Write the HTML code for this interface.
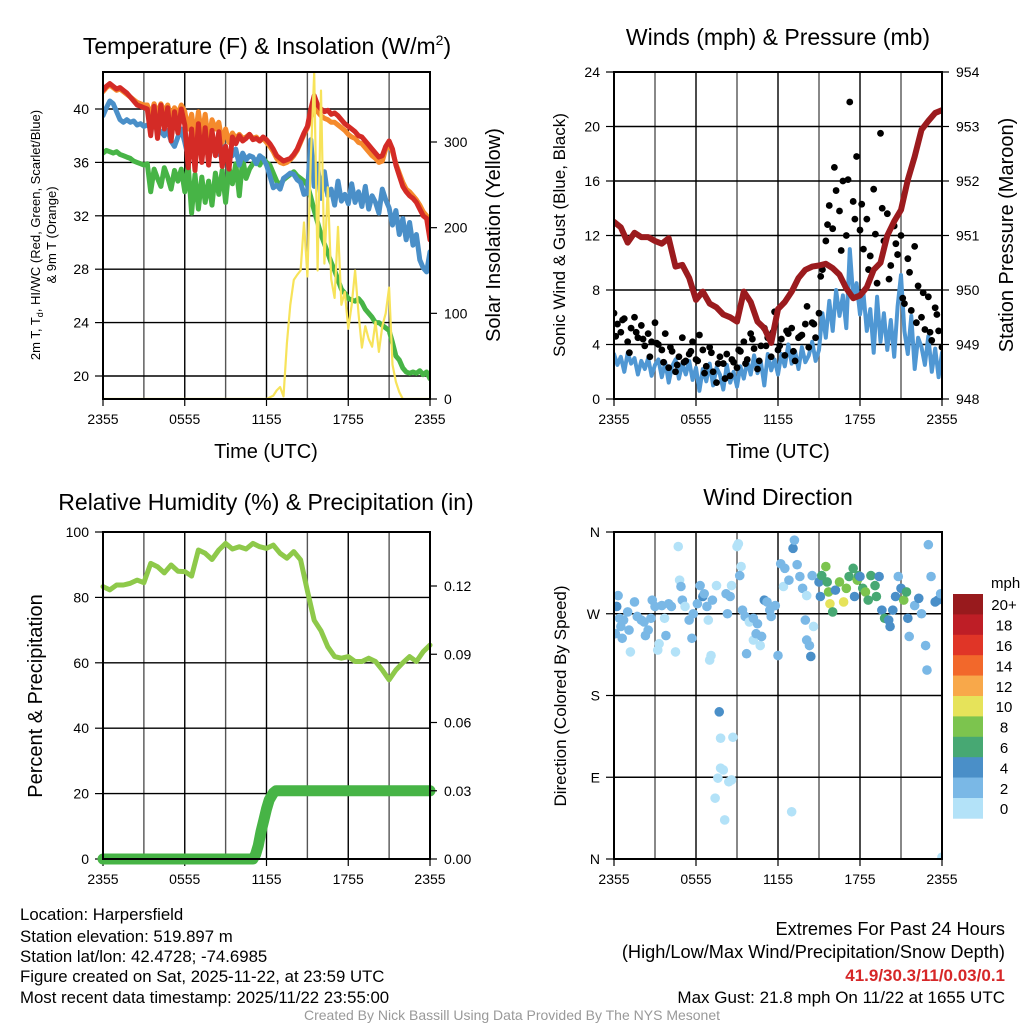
<!DOCTYPE html>
<html><head><meta charset="utf-8">
<style>
html,body{margin:0;padding:0;background:#fff;}
svg{display:block;font-family:"Liberation Sans",Arial,sans-serif;}
</style></head>
<body>
<svg id="chart" width="1024" height="1024" viewBox="0 0 1024 1024" xmlns="http://www.w3.org/2000/svg">
<rect width="1024" height="1024" fill="#fff"/>
<g id="layer"></g>
<text x="267" y="54" font-size="23" text-anchor="middle">Temperature (F) &amp; Insolation (W/m<tspan font-size="14" dy="-9">2</tspan><tspan dy="9">)</tspan></text>
<text x="778" y="45" font-size="23" text-anchor="middle">Winds (mph) &amp; Pressure (mb)</text>
<text x="266" y="510" font-size="23" text-anchor="middle">Relative Humidity (%) &amp; Precipitation (in)</text>
<text x="778" y="505" font-size="23" text-anchor="middle">Wind Direction</text>

<text transform="translate(40,235) rotate(-90)" font-size="13" text-anchor="middle">2m T, T<tspan font-size="9" dy="3">d</tspan><tspan dy="-3">, HI/WC (Red, Green, Scarlet/Blue)</tspan></text>
<text transform="translate(56,235) rotate(-90)" font-size="13" text-anchor="middle">&amp; 9m T (Orange)</text>
<text transform="translate(500,235) rotate(-90)" font-size="20" text-anchor="middle">Solar Insolation (Yellow)</text>
<text x="266" y="458" font-size="20" text-anchor="middle">Time (UTC)</text>
<text transform="translate(565,235) rotate(-90)" font-size="17" text-anchor="middle">Sonic Wind &amp; Gust (Blue, Black)</text>
<text transform="translate(1013,235) rotate(-90)" font-size="20" text-anchor="middle">Station Pressure (Maroon)</text>
<text x="778" y="458" font-size="20" text-anchor="middle">Time (UTC)</text>
<text transform="translate(42,696) rotate(-90)" font-size="20" text-anchor="middle">Percent &amp; Precipitation</text>
<text transform="translate(566,696) rotate(-90)" font-size="17" text-anchor="middle">Direction (Colored By Speed)</text>

<g font-size="16.8">
<text x="20" y="920">Location: Harpersfield</text>
<text x="20" y="942">Station elevation: 519.897 m</text>
<text x="20" y="962">Station lat/lon: 42.4728; -74.6985</text>
<text x="20" y="982">Figure created on Sat, 2025-11-22, at 23:59 UTC</text>
<text x="20" y="1003">Most recent data timestamp: 2025/11/22 23:55:00</text>
</g>
<g font-size="18.2" text-anchor="end">
<text x="1005" y="935">Extremes For Past 24 Hours</text>
<text x="1005" y="958">(High/Low/Max Wind/Precipitation/Snow Depth)</text>
<text x="1005" y="981" fill="#d62728" font-weight="bold" font-size="17">41.9/30.3/11/0.03/0.1</text>
<text x="1005" y="1003" font-size="17">Max Gust: 21.8 mph On 11/22 at 1655 UTC</text>
</g>
<text x="512" y="1020" font-size="14" fill="#999" text-anchor="middle">Created By Nick Bassill Using Data Provided By The NYS Mesonet</text>
</svg>
<script>
// ---------- DATA ----------
const timeLabels = ["2355","0555","1155","1755","2355"];
const tempTicks = [20,24,28,32,36,40];
const solarTicks = [0,100,200,300];
const windTicks = [0,4,8,12,16,20,24];
const presTicks = [948,949,950,951,952,953,954];
const rhTicks = [0,20,40,60,80,100];
const precipTicks = ["0.00","0.03","0.06","0.09","0.12"];
const dirTicks = ["N","E","S","W","N"];
const speedBins = ["0","2","4","6","8","10","12","14","16","18","20+"];
const speedColors = ["#b3e2f8","#7ab8e6","#4a8fc8","#47a873","#7cc44e","#e6e35a","#f8a84a","#f2682b","#e03527","#be1e26","#981a1d"];

const tempRed = [41.4,41.7,41.9,41.7,41.5,41.6,41.4,41.2,40.9,40.6,40.3,40.2,40.1,
40.0,38.0,40.2,37.8,40.3,38.5,40.1,37.6,39.8,38.2,40.0,38.8,
35.6,38.5,35.4,38.9,36.0,38.6,35.8,38.4,36.5,38.3,35.7,37.2,
35.5,37.9,37.4,38.0,37.6,37.8,38.1,37.7,37.8,37.6,37.9,37.7,
37.4,37.0,36.5,36.3,36.1,36.2,36.3,36.6,37.0,37.6,38.2,38.7,
40.0,41.0,40.3,40.0,39.8,39.9,39.6,39.7,39.5,39.2,38.9,38.7,
38.5,38.3,38.0,37.9,37.6,37.3,37.0,36.7,36.4,36.5,37.2,37.6,
37.0,35.8,35.0,34.2,33.8,33.5,33.3,33.0,32.5,32.0,31.8,30.2];
const tempOrange = [41.3,41.6,41.8,41.6,41.4,41.5,41.3,41.1,40.9,40.7,40.5,40.4,40.3,
40.3,39.5,40.4,39.6,40.4,39.8,40.3,39.4,40.1,39.6,40.3,39.8,
38.5,39.6,37.8,39.8,38.0,39.6,37.5,39.2,38.5,39.0,37.5,38.5,
37.5,38.2,37.8,38.1,37.8,37.9,38.1,37.8,37.9,37.6,37.8,37.5,
37.2,36.8,36.3,36.0,35.9,36.0,36.2,36.5,36.9,37.5,38.1,38.6,
39.3,40.2,39.8,39.5,39.3,39.2,39.0,39.0,38.8,38.6,38.4,38.1,
37.9,37.8,37.5,37.4,37.1,36.8,36.5,36.3,36.0,36.1,37.0,37.3,
36.8,35.9,35.2,34.5,34.0,33.8,33.5,33.2,32.8,32.3,32.0,30.8];
const tempGreen = [36.7,36.9,36.8,36.7,36.8,36.6,36.5,36.4,36.3,36.1,36.0,35.9,35.8,
35.9,33.8,35.5,34.8,34.2,35.6,34.9,34.0,35.4,34.6,35.5,33.8,
35.8,32.2,35.1,32.5,34.9,33.0,34.6,32.8,35.2,33.6,35.4,33.0,
35.6,34.4,35.9,33.5,36.3,34.8,35.5,35.9,36.2,35.8,36.3,36.0,
35.8,35.2,34.6,34.3,34.7,34.9,35.1,35.3,35.0,34.8,34.6,34.3,
33.4,32.4,31.5,30.6,29.9,29.2,28.5,27.9,27.2,26.5,26.2,25.8,
25.7,25.6,25.8,25.5,25.0,24.7,24.4,24.0,24.0,23.8,23.6,23.4,
22.5,21.5,21.2,20.6,20.3,20.2,20.3,20.2,20.4,20.1,20.3,19.8];
const tempBlue = [39.5,40.1,40.6,40.4,39.8,39.2,39.0,39.2,39.0,39.1,38.8,38.9,38.7,
38.8,38.6,38.8,38.5,38.3,38.0,38.4,37.6,37.2,37.9,38.5,37.5,
36.4,37.0,37.4,36.9,37.2,37.3,36.6,37.0,37.2,36.6,37.4,36.8,
36.8,36.5,37.0,35.8,36.7,36.2,36.5,36.4,35.9,36.5,36.3,35.8,
35.0,34.1,34.3,34.0,34.8,35.0,35.2,35.1,34.7,34.5,33.6,33.7,
37.7,34.2,35.8,33.3,35.3,33.5,34.0,32.8,34.6,33.1,33.6,32.9,
34.4,33.0,33.8,32.7,34.2,32.5,33.5,33.0,32.2,34.0,33.2,32.6,
31.3,32.4,30.6,31.8,30.2,31.5,29.8,30.6,28.7,28.1,27.8,29.3];
const solar = [0,0,0,0,0,0,0,0,0,0,0,0,0,0,0,0,0,0,0,0,0,0,0,0,0,0,0,0,0,0,0,0,0,0,0,0,0,0,0,0,0,0,0,0,0,0,0,0,0,
2,4,10,14,3,65,110,139,145,150,206,143,280,381,150,360,158,247,140,118,201,110,125,82,110,150,100,60,85,70,61,90,55,85,100,130,40,20,8,0,0,0,0,0,0,0,0,0];

const windSpeed = [3.3,2.5,3.1,2.0,3.4,2.6,3.0,1.8,2.8,2.2,3.0,1.7,2.5,
2.9,1.6,2.7,1.2,2.4,2.9,1.5,2.6,1.8,2.8,1.4,2.3,
0.6,2.2,1.3,2.6,1.0,2.3,1.8,0.7,2.5,1.2,2.0,0.9,
2.4,1.5,2.8,1.8,3.2,1.9,2.7,1.0,3.3,2.1,2.9,1.8,
3.3,2.4,4.0,2.6,3.5,2.2,3.8,2.7,3.2,4.2,2.8,3.6,
6.3,4.5,7.2,5.0,8.0,6.1,7.6,5.2,11.0,7.5,8.5,6.2,
7.8,5.0,6.6,3.4,7.5,4.2,6.3,3.6,5.8,3.1,6.8,9.1,
5.0,3.3,6.1,2.2,4.5,3.8,2.5,4.6,2.0,3.7,1.6,3.4];
const gusts = [6.3,5.5,4.9,5.9,4.2,5.2,6.0,4.5,5.4,3.9,4.8,4.2,5.6,
4.0,3.6,4.8,2.3,3.5,2.0,3.1,4.5,2.8,3.3,4.2,2.9,
4.7,3.6,2.4,3.8,2.0,1.2,3.1,2.6,3.3,1.7,2.7,2.3,
3.5,4.2,2.9,4.8,3.7,2.2,3.9,5.2,4.5,3.1,6.4,3.6,
4.4,3.2,4.8,5.2,2.8,4.5,4.7,5.5,3.8,5.6,4.5,6.3,
9.5,11.6,14.2,12.5,15.3,13.8,16.0,12.0,21.8,14.5,17.8,12.4,
11.0,13.2,10.5,15.4,8.5,19.5,11.6,13.6,9.8,12.7,10.6,12.0,
7.0,10.3,6.5,11.2,8.3,6.0,5.1,7.5,4.3,6.7,5.0,3.8];
const gustsOffset = [4.6,5.8,3.4,4.9,4.4,3.1,4.1,2.7,3.8,2.5,2.7,3.5,
2.8,1.9,3.4,2.6,1.5,2.9,3.6,2.6,4.4,2.8,3.9,4.9,
3.9,5.0,3.5,4.6,6.8,5.5,9.0,12.8,17.0,10.9,16.1,13.2,
14.3,9.5,12.1,14.0,8.8,11.4,7.4,9.3,5.6,7.8,4.9,6.2];
const pressure = [951.25,951.15,950.87,951.05,950.97,950.97,950.9,950.85,950.95,950.43,950.46,950.22,949.82,949.97,949.75,949.68,949.55,949.5,949.42,949.97,949.78,949.42,949.3,949.03,949.65,949.78,949.97,950.22,950.37,950.43,950.45,950.48,950.4,950.28,950.03,949.85,949.9,950.05,950.37,950.5,951.0,951.26,951.47,952.02,952.45,952.94,953.1,953.25,953.3];

const rh = [83.3,82.3,83.8,83.8,84.3,85.3,84.5,90.4,89.4,87.5,89.9,88.0,87.9,86.5,94.5,93.5,91.6,94.5,96.5,94.8,95.5,94.8,96.5,95.5,95.0,96.0,93.5,92.0,94.0,91.5,82.0,73.0,69.8,64.9,61.9,61.4,61.9,60.4,60.4,61.4,60.4,57.8,54.8,57.8,60.0,61.9,60.4,63.4,65.4];
const precipTimes = [0,11,11.2,11.4,11.6,11.8,12.0,12.2,12.5,12.7,24];
const precip = [0,0,0.002,0.006,0.012,0.017,0.022,0.026,0.029,0.03,0.03];

const dirTimes = [0.1,0.2,0.3,0.4,0.5,0.6,0.7,1.0,1.1,1.2,1.5,1.7,2.0,2.2,2.3,2.5,2.7,2.8,3.0,3.2,3.3,3.5,3.7,3.8,4.0,4.2,4.5,4.7,4.8,4.9,5.0,5.2,5.5,5.7,5.8,6.1,6.3,6.5,6.6,6.8,6.9,7.0,7.1,7.2,7.5,7.7,7.8,7.6,7.4,7.8,8.0,8.1,8.4,8.6,8.7,8.2,8.3,8.5,8.6,9.0,9.1,9.3,9.2,9.4,9.6,9.7,9.9,10.2,10.4,10.5,10.7,10.8,10.2,11.0,11.2,11.4,11.5,11.8,12.0,12.2,12.4,12.5,12.8,13.0,13.1,13.2,13.4,13.6,13.8,14.0,14.1,14.3,14.4,14.6,14.1,14.5,15.0,15.1,15.2,15.5,15.6,15.7,15.8,16.0,16.2,16.5,16.8,17.0,17.2,17.5,17.6,17.8,17.9,18.0,18.2,18.4,18.6,18.8,19.1,19.2,19.4,19.6,19.8,20.1,20.2,20.4,20.6,20.8,21.0,21.2,21.4,21.5,21.6,22.0,22.3,22.5,22.8,22.9,23.0,23.2,23.5,23.7,23.9,24.0];
const dirDeg = [248,278,290,265,256,243,263,272,252,228,283,267,263,261,246,252,265,285,278,230,237,279,265,246,281,278,228,344,307,300,285,278,263,243,270,281,301,289,292,278,263,219,224,285,301,162,133,89,67,100,98,43,85,87,134,292,270,289,301,344,347,322,312,274,267,226,261,241,248,259,235,245,265,285,283,274,267,279,224,325,300,320,307,52,342,351,324,311,298,263,241,235,223,256,290,312,305,289,312,322,305,294,281,272,296,305,283,298,311,320,289,307,312,311,298,294,285,312,301,289,311,274,265,263,256,274,289,311,298,285,294,265,245,279,287,270,235,208,346,311,283,285,292,2];
const dirSpeed = [3,4,3,3,3,3,3,3,3,1,3,3,3,3,3,3,3,3,3,1,1,3,1,3,3,3,1,1,1,3,3,1,3,3,3,3,3,4,3,3,1,1,1,3,1,4,1,1,1,1,1,1,1,1,1,3,3,3,1,1,1,1,3,3,3,3,1,1,3,3,1,3,3,4,3,3,3,3,3,3,1,3,3,1,4,3,3,3,3,3,3,3,4,1,1,3,4,4,6,8,6,8,10,6,4,8,10,8,6,6,4,8,6,4,6,8,6,6,6,6,4,4,6,4,4,4,4,3,4,8,6,4,3,3,4,3,3,3,3,3,4,4,3,1];

// ---------- HELPERS ----------
const NS = "http://www.w3.org/2000/svg";
const layer = document.getElementById("layer");
function el(tag, attrs, parent) {
  const e = document.createElementNS(NS, tag);
  for (const k in attrs) e.setAttribute(k, attrs[k]);
  (parent || layer).appendChild(e);
  return e;
}
function lin(d0, d1, r0, r1) { return v => r0 + (v - d0) * (r1 - r0) / (d1 - d0); }
const step = 0.25;

function frame(px0, px1, py0, py1, name, yTicks, yFn, yLabels) {
  const g = el("g", {});
  
  
  for (let h = 0; h <= 24; h += 3) {
    const x = px0 + h / 24 * (px1 - px0);
    el("line", {x1:x, x2:x, y1:py0, y2:py1, stroke: (h % 6 === 0) ? "#000" : "#555", "stroke-width": 1.4}, g);
  }
  yTicks.forEach((v, i) => {
    const y = yFn(v);
    el("line", {x1:px0, x2:px1, y1:y, y2:y, stroke:"#000", "stroke-width":1.4}, g);
    el("line", {x1:px0-8, x2:px0, y1:y, y2:y, stroke:"#000", "stroke-width":1.2}, g);
    const t = el("text", {x:px0-14, y:y+5, "font-size":14, "text-anchor":"end"}, g);
    t.textContent = yLabels ? yLabels[i] : v;
    
    
  });
  timeLabels.forEach((s, i) => {
    const x = px0 + i * 6 / 24 * (px1 - px0);
    el("line", {x1:x, x2:x, y1:py1, y2:py1+7, stroke:"#000", "stroke-width":1.2}, g);
    const t = el("text", {x:x, y:py1+25, "font-size":14, "text-anchor":"middle"}, g);
    t.textContent = s;
    
    
  });
  return g;
}
function border(px0, px1, py0, py1) {
  el("rect", {x:px0, y:py0, width:px1-px0, height:py1-py0, fill:"none", stroke:"#000", "stroke-width":2});
}
function rightTicks(px1, vals, fn, labels, name) {
  vals.forEach((v, i) => {
    const y = fn(v);
    el("line", {x1:px1, x2:px1+7, y1:y, y2:y, stroke:"#000", "stroke-width":1.2});
    const t = el("text", {x:px1+14, y:y+5, "font-size":14});
    t.textContent = labels ? labels[i] : v;
    
    
  });
}
function poly(xs, ys, color, w, name, opacity) {
  let d = "";
  for (let i = 0; i < Math.min(xs.length, ys.length); i++) d += (i ? "L" : "M") + xs[i].toFixed(1) + "," + ys[i].toFixed(1);
  const p = el("path", {d:d, fill:"none", stroke:color, "stroke-width":w, "stroke-linejoin":"round", "stroke-linecap":"round", opacity: opacity || 1});
  
  
  return p;
}

// ---------- PANEL 1: TEMPERATURE ----------
{
  const X0=103, X1=430, Y0=72, Y1=399;
  const xs = lin(0, 24, X0, X1);
  const ys = lin(20, 40, 376, 109);
  const yr = lin(0, 300, 399, 142);
  frame(X0, X1, Y0, Y1, "temperature", tempTicks, ys);
  const tx = tempRed.map((_, i) => xs(i * step));
  const clip = el("clipPath", {id:"c1"}); el("rect", {x:X0, y:Y0, width:X1-X0, height:Y1-Y0}, clip);
  const g = el("g", {"clip-path":"url(#c1)"});
  g.appendChild(poly(tx, tempGreen.map(ys), "#47b446", 5, "td-green-line"));
  g.appendChild(poly(tx, tempBlue.map(ys), "#4a8fc8", 5, "windchill-blue-line"));
  g.appendChild(poly(tx, tempOrange.map(ys), "#f58a2c", 5, "temp-9m-orange-line"));
  g.appendChild(poly(tx, tempRed.map(ys), "#d42b26", 5, "temp-2m-red-line"));
  g.appendChild(poly(tx, solar.map(yr), "#f7e35a", 2.2, "solar-yellow-line"));
  border(X0, X1, Y0, Y1);
  rightTicks(X1, solarTicks, yr, null, "solar");
}

// ---------- PANEL 2: WINDS ----------
{
  const X0=614, X1=942, Y0=72, Y1=399;
  const xs = lin(0, 24, X0, X1);
  const ys = lin(0, 24, 399, 72);
  const yp = lin(948, 954, 399, 72);
  frame(X0, X1, Y0, Y1, "wind", windTicks, ys);
  const clip = el("clipPath", {id:"c2"}); el("rect", {x:X0, y:Y0, width:X1-X0, height:Y1-Y0}, clip);
  const g = el("g", {"clip-path":"url(#c2)"});
  g.appendChild(poly(windSpeed.map((_, i) => xs(i * step)), windSpeed.map(ys), "#4f97d3", 4, "wind-speed-line"));
  gusts.forEach((v, i) => {
    const c = el("circle", {cx:xs(i * step), cy:ys(v), r:3.4, fill:"#000"}, g);
    
    
  });
  gustsOffset.forEach((v, i) => {
    const c = el("circle", {cx:xs(0.125 + i * 0.5), cy:ys(v), r:3.4, fill:"#000"}, g);
    
    
  });
  g.appendChild(poly(pressure.map((_, i) => xs(i * 0.5)), pressure.map(yp), "#9b1b1e", 6, "pressure-line"));
  border(X0, X1, Y0, Y1);
  rightTicks(X1, presTicks, yp, null, "pressure");
}

// ---------- PANEL 3: HUMIDITY ----------
{
  const X0=103, X1=430, Y0=532, Y1=859;
  const xs = lin(0, 24, X0, X1);
  const ys = lin(0, 100, 859, 532);
  const yr = lin(0, 0.12, 859, 586);
  frame(X0, X1, Y0, Y1, "humidity", rhTicks, ys);
  const clip = el("clipPath", {id:"c3"}); el("rect", {x:X0-6, y:Y0, width:X1-X0+12, height:Y1-Y0+6}, clip);
  const g = el("g", {"clip-path":"url(#c3)"});
  g.appendChild(poly(rh.map((_, i) => xs(i * 0.5)), rh.map(ys), "#8ec94a", 5, "humidity-line"));
  g.appendChild(poly(precipTimes.map(xs), precip.map(yr), "#47b446", 11, "precipitation-line"));
  border(X0, X1, Y0, Y1);
  rightTicks(X1, precipTicks.map(Number), yr, precipTicks, "precip");
}

// ---------- PANEL 4: WIND DIRECTION ----------
{
  const X0=614, X1=942, Y0=532, Y1=859;
  const xs = lin(0, 24, X0, X1);
  const ys = lin(0, 360, 859, 532);
  frame(X0, X1, Y0, Y1, "direction", [0,90,180,270,360], ys, dirTicks);
  const clip = el("clipPath", {id:"c4"}); el("rect", {x:X0, y:Y0, width:X1-X0, height:Y1-Y0}, clip);
  const g = el("g", {"clip-path":"url(#c4)"});
  dirDeg.forEach((d, i) => {
    const s = dirSpeed[i];
    const bin = Math.min(10, Math.floor(s / 2));
    const c = el("circle", {cx:xs(dirTimes[i]), cy:ys(d), r:4.8, fill:speedColors[bin]}, g);
    
    
  });
  border(X0, X1, Y0, Y1);
  const cb = el("g", {});
  
  
  const t0 = el("text", {x:991, y:588, "font-size":15}, cb); t0.textContent = "mph";
  const bh = 20.4, top = 594;
  for (let k = 0; k < speedBins.length; k++) {
    const idx = speedBins.length - 1 - k;
    const r = el("rect", {x:953, y:top + k*bh, width:30, height:bh+0.3, fill:speedColors[idx]}, cb);
    
    
    const t = el("text", {x:1004, y:top + k*bh + bh/2 + 6, "font-size":15, "text-anchor":"middle"}, cb);
    t.textContent = speedBins[idx];
    
    
  }
}
</script>
</body></html>
